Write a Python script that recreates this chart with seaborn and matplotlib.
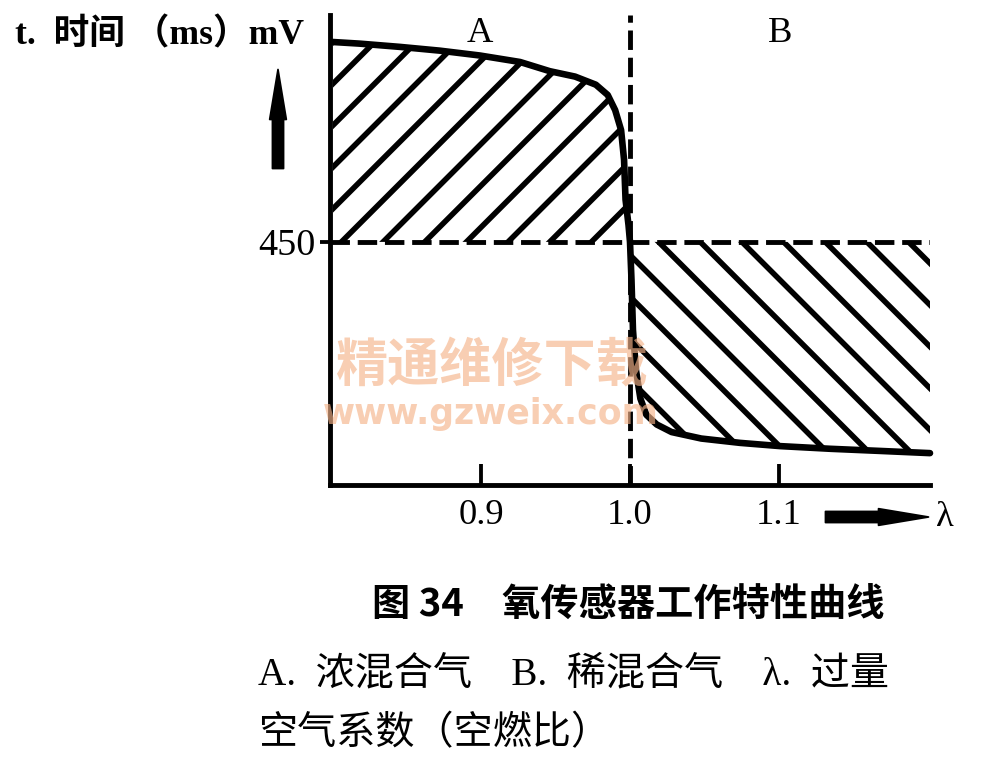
import numpy as np
import matplotlib.pyplot as plt
import seaborn as sns

# values: lambda (excess air ratio) vs sensor voltage (mV)
lam = [0.800, 0.818, 0.845, 0.872, 0.899, 0.926, 0.946, 0.963, 0.977, 0.985,
       0.990, 0.994, 0.996, 0.997, 0.999, 1.000, 1.001, 1.002, 1.004, 1.007,
       1.011, 1.018, 1.028, 1.048, 1.074, 1.101, 1.135, 1.169, 1.202]
mv = [820, 817, 811, 804, 795, 783, 766, 756, 741, 722,
      694, 657, 602, 528, 481, 450, 380, 287, 213, 160,
      130, 112, 98, 86, 78, 72, 67, 63, 59]
ref_mv = 450
lam_ticks = [0.9, 1.0, 1.1]
lam_labels = ['0.9', '1.0', '1.1']

sns.set_theme(style='white')
plt.rcParams['font.family'] = ['Liberation Serif', 'Noto Sans CJK SC']
plt.rcParams['hatch.linewidth'] = 3.2
plt.rcParams['text.color'] = 'black'
plt.rcParams['xtick.color'] = 'black'
plt.rcParams['ytick.color'] = 'black'
plt.rcParams['xtick.bottom'] = True
plt.rcParams['ytick.left'] = True
plt.rcParams['axes.axisbelow'] = False

W, H, DPI = 983, 769, 125
fig = plt.figure(figsize=(W / DPI, H / DPI), dpi=DPI)
ax = fig.add_axes([330 / W, 1 - 485 / H, 600 / W, 470 / H])

lam_a = np.array(lam)
mv_a = np.array(mv)

# hatched regions: A (rich) above 450 mV, B (lean) below
ax.fill_between(lam_a, mv_a, ref_mv, where=lam_a <= 1.0, hatch='/',
                facecolor='none', edgecolor='black', linewidth=0)
ax.fill_between(lam_a, ref_mv, mv_a, where=lam_a >= 1.0, hatch='\\',
                facecolor='none', edgecolor='black', linewidth=0)

sns.lineplot(x=lam, y=mv, ax=ax, color='black', linewidth=3.8, sort=False,
             solid_capstyle='round', solid_joinstyle='round', clip_on=False)

# dashed reference lines
ax.axvline(1.0, color='black', linewidth=2.8, dashes=(4, 1.6), clip_on=False)
ax.axhline(ref_mv, color='black', linewidth=2.8, dashes=(4, 1.6))

ax.set_xlim(0.798, 1.202)
ax.set_ylim(0, 870)

for s in ['top', 'right']:
    ax.spines[s].set_visible(False)
for s in ['left', 'bottom']:
    ax.spines[s].set_linewidth(2.8)
    ax.spines[s].set_color('black')

ax.set_xticks(lam_ticks, lam_labels)
ax.set_yticks([ref_mv], [str(ref_mv)])
ax.tick_params(axis='x', bottom=True, direction='in', length=0,
               labelsize=21, pad=8, colors='black')
ax.tick_params(axis='y', left=True, direction='out', length=6, width=2.2,
               labelsize=22, pad=2, colors='black')
# short inward tick marks standing on the lambda axis
ax.vlines(lam_ticks, 0, 0.045, transform=ax.get_xaxis_transform(),
          color='black', linewidth=2.2)

ax.text(0.899, 835, 'A', ha='center', va='center', fontsize=21)
ax.text(1.101, 835, 'B', ha='center', va='center', fontsize=21)

# axis captions and arrows
fig.text(15 / W, 1 - 35 / H, 't.  时间 （ms）mV', fontsize=20.5,
         fontweight='bold', va='center', ha='left')
fig.patches.append(plt.matplotlib.patches.FancyArrowPatch(
    (278 / W, 1 - 172 / H), (278 / W, 1 - 66 / H), transform=fig.transFigure,
    arrowstyle='simple,head_length=1.8,head_width=0.6,tail_width=0.4',
    mutation_scale=16, color='black'))
fig.patches.append(plt.matplotlib.patches.FancyArrowPatch(
    (822 / W, 1 - 517 / H), (932 / W, 1 - 517 / H), transform=fig.transFigure,
    arrowstyle='simple,head_length=1.8,head_width=0.6,tail_width=0.4',
    mutation_scale=16, color='black'))
fig.text(945 / W, 1 - 517 / H, 'λ', fontsize=21, va='center', ha='center')

# watermark
fig.text(491 / W, 1 - 366 / H, '精通维修下载', fontsize=30, fontweight='bold',
         color='#f5b48a', alpha=0.65, ha='center', va='center',
         family='Noto Sans CJK SC', zorder=10)
fig.text(491 / W, 1 - 414 / H, 'www.gzweix.com', fontsize=20,
         fontweight='bold', color='#f5b48a', alpha=0.65, ha='center',
         va='center', family='DejaVu Sans', zorder=10)

# figure caption
fig.text(372 / W, 1 - 605 / H, '图 34　氧传感器工作特性曲线', fontsize=22,
         fontweight='bold', family='Noto Sans CJK SC', va='center', ha='left')
fig.text(258 / W, 1 - 675 / H, 'A.  浓混合气　B.  稀混合气　λ.  过量',
         fontsize=22.5, va='center', ha='left')
fig.text(258 / W, 1 - 735 / H, '空气系数（空燃比）', fontsize=22.5,
         va='center', ha='left')

fig.savefig('out.png', dpi=DPI)
